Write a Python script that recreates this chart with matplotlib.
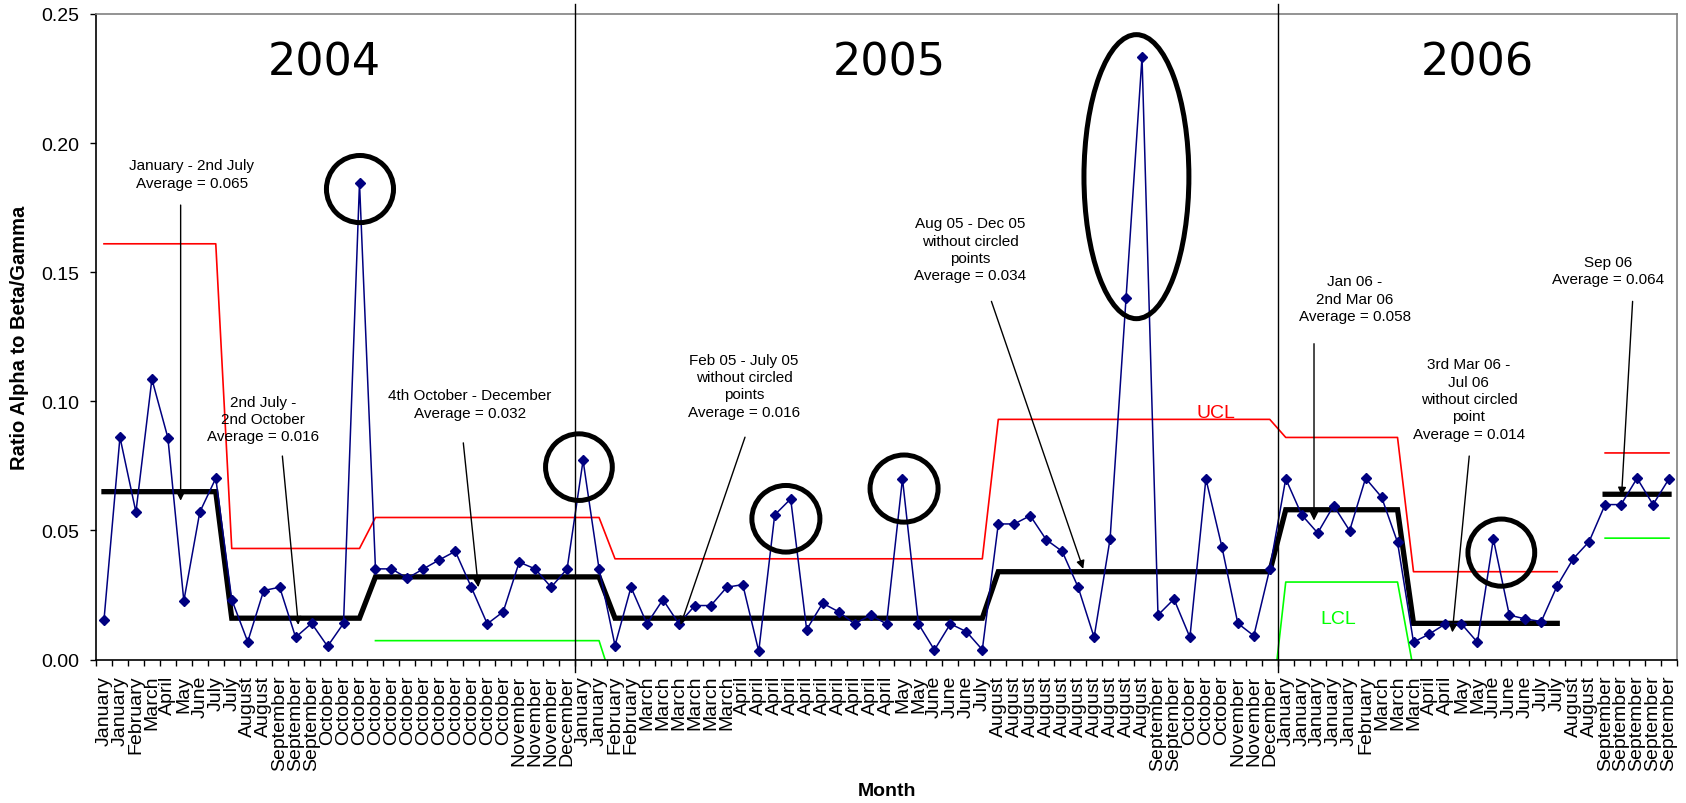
import matplotlib
matplotlib.use("Agg")
import matplotlib.pyplot as plt
from matplotlib.patches import Ellipse
from matplotlib.ticker import FixedLocator, FuncFormatter

# ---------------- data ----------------
months_2004 = ["January", "January", "February", "March", "April", "May", "June", "July", "July",
               "August", "August", "September", "September", "September",
               "October", "October", "October", "October", "October", "October",
               "October", "October", "October", "October", "October", "October",
               "November", "November", "November", "December"]
months_2005 = ["January", "January", "February", "February",
               "March", "March", "March", "March", "March", "March",
               "April", "April", "April", "April", "April", "April", "April", "April", "April", "April",
               "May", "May", "June", "June", "June", "July",
               "August", "August", "August", "August", "August", "August", "August", "August", "August", "August",
               "September", "September", "October", "October", "October",
               "November", "November", "December"]
months_2006 = ["January", "January", "January", "January", "January", "February",
               "March", "March", "March", "April", "April", "May", "May",
               "June", "June", "June", "July", "July", "August", "August",
               "September", "September", "September", "September", "September"]
months = months_2004 + months_2005 + months_2006

ratio = [0.0153, 0.0861, 0.0571, 0.1086, 0.0859, 0.0227, 0.0571, 0.0702, 0.0232, 0.0069,
         0.0267, 0.0280, 0.0086, 0.0140, 0.0051, 0.0140, 0.1846, 0.0351, 0.0351, 0.0315,
         0.0351, 0.0386, 0.0419, 0.0280, 0.0138, 0.0185, 0.0377, 0.0351, 0.0280, 0.0351,
         0.0771, 0.0351, 0.0054, 0.0280, 0.0138, 0.0232, 0.0138, 0.0209, 0.0209, 0.0280,
         0.0290, 0.0032, 0.0560, 0.0622, 0.0116, 0.0218, 0.0185, 0.0138, 0.0172, 0.0138,
         0.0700, 0.0138, 0.0037, 0.0138, 0.0108, 0.0038, 0.0525, 0.0525, 0.0557, 0.0464,
         0.0419, 0.0280, 0.0086, 0.0467, 0.1400, 0.2334, 0.0172, 0.0234, 0.0086, 0.0700,
         0.0437, 0.0140, 0.0092, 0.0351, 0.0700, 0.0560, 0.0490, 0.0596, 0.0499, 0.0702,
         0.0629, 0.0454, 0.0067, 0.0099, 0.0138, 0.0138, 0.0067, 0.0467, 0.0172, 0.0157,
         0.0147, 0.0286, 0.0390, 0.0457, 0.0600, 0.0600, 0.0702, 0.0600, 0.0700]

nan = float("nan")
average = ([0.065] * 8 + [0.016] * 9 + [0.032] * 15 + [0.016] * 24 + [0.034] * 18 +
           [0.058] * 8 + [0.014] * 10 + [nan] * 2 + [0.064] * 5)
ucl = ([0.161] * 8 + [0.043] * 9 + [0.055] * 15 + [0.039] * 24 + [0.093] * 18 +
       [0.086] * 8 + [0.034] * 10 + [nan] * 2 + [0.080] * 5)
lcl = ([nan] * 17 + [0.0073] * 15 + [-0.012] * 24 + [-0.025] * 18 +
       [0.030] * 8 + [-0.004] * 10 + [nan] * 2 + [0.047] * 5)

years = ["2004", "2005", "2006"]
annotations = [
    "January - 2nd July\nAverage = 0.065",
    "2nd July -\n2nd October\nAverage = 0.016",
    "4th October - December\nAverage = 0.032",
    "Feb 05 - July 05\nwithout circled\npoints\nAverage = 0.016",
    "Aug 05 - Dec 05\nwithout circled\npoints\nAverage = 0.034",
    "Jan 06 -\n2nd Mar 06\nAverage = 0.058",
    "3rd Mar 06 -\nJul 06\nwithout circled\npoint\nAverage = 0.014",
    "Sep 06\nAverage = 0.064",
]

# ---------------- figure ----------------
W, H, DPI = 1686, 804, 100
fig = plt.figure(figsize=(W / DPI, H / DPI), dpi=DPI)
ax = fig.add_axes([96 / W, 1 - 660.5 / H, (1677 - 96) / W, (660.5 - 15) / H])

x = list(range(len(months)))
FONT = "Liberation Sans"

ax.plot(x, ucl, color="#FF0000", lw=1.2, zorder=2)
ax.plot(x, lcl, color="#00FF00", lw=1.2, zorder=2)
ax.plot(x, average, color="black", lw=3.8, solid_joinstyle="miter", zorder=3)
ax.plot(x, ratio, color="#000080", lw=1.1, marker="D", markersize=5.4,
        markerfacecolor="#000080", markeredgecolor="#000080", zorder=4)

ax.set_xlim(-0.5, len(months) - 0.5)
ax.set_ylim(0, 0.25)

# year separators
for sep in (29.5, 73.5):
    ax.plot([sep, sep], [-0.005, 0.254], color="black", lw=1.0, clip_on=False, zorder=5)

# year titles
for yr, xp in zip(years, (13.8, 49.2, 86.0)):
    ax.text(xp, 0.2315, yr, fontsize=32, family="DejaVu Sans", ha="center", va="center")

# outlier circles
ell = [((16.03, 0.1822), 4.2, 0.026), ((29.74, 0.0745), 4.18, 0.0258),
       ((42.7, 0.0545), 4.26, 0.0258), ((50.1, 0.0662), 4.26, 0.026),
       ((64.65, 0.187), 6.57, 0.110), ((87.5, 0.0414), 4.18, 0.026)]
for c, w, h in ell:
    ax.add_patch(Ellipse(c, w, h, fill=False, edgecolor="black", lw=3.6, zorder=6, clip_on=False))

# annotation texts and arrows
text_pos = [(5.51, 0.188), (9.98, 0.0932), (22.92, 0.099), (40.08, 0.106),
            (54.25, 0.1589), (78.34, 0.1397), (85.47, 0.1009), (94.16, 0.1507)]
arrows = [((4.8, 0.176), (4.8, 0.0615)), ((11.17, 0.0788), (12.17, 0.0134)),
          ((22.5, 0.0839), (23.44, 0.028)), ((40.14, 0.0861), (36.11, 0.0134)),
          ((55.57, 0.1387), (61.32, 0.0351)), ((75.77, 0.1223), (75.77, 0.0538)),
          ((85.49, 0.0788), (84.43, 0.0105)), ((95.72, 0.1387), (95.03, 0.0635))]
for txt, pos in zip(annotations, text_pos):
    ax.text(pos[0], pos[1], txt, fontsize=11, family=FONT, ha="center", va="center",
            multialignment="center", linespacing=1.3, zorder=7)
for start, tip in arrows:
    ax.annotate("", xy=tip, xytext=start,
                arrowprops=dict(arrowstyle="-|>", color="black", lw=1.0,
                                mutation_scale=12, shrinkA=0, shrinkB=0),
                zorder=7)

ax.text(69.6, 0.0955, "UCL", color="#FF0000", fontsize=14, family=FONT, ha="center", va="center")
ax.text(77.3, 0.016, "LCL", color="#00FF00", fontsize=14, family=FONT, ha="center", va="center")

# axes styling
for side in ("left", "bottom"):
    ax.spines[side].set_color("black")
    ax.spines[side].set_linewidth(1.2)
for side in ("top", "right"):
    ax.spines[side].set_color("#808080")
    ax.spines[side].set_linewidth(1.2)

ax.set_xticks(x)
ax.set_xticklabels(months, rotation=90, fontsize=14, family=FONT, ha="center", va="top")
ax.xaxis.set_minor_locator(FixedLocator([i - 0.5 for i in range(len(months) + 1)]))
ax.tick_params(axis="x", which="major", length=0, pad=11)
ax.tick_params(axis="x", which="minor", length=4.3, width=1.0, direction="out")

ax.set_yticks([0, 0.05, 0.10, 0.15, 0.20, 0.25])
ax.yaxis.set_major_formatter(FuncFormatter(lambda v, p: f"{v:.2f}"))
ax.tick_params(axis="y", length=4, width=1.0, direction="out", pad=8, labelsize=14)
for lab in ax.get_yticklabels():
    lab.set_family(FONT)

ax.set_ylabel("Ratio Alpha to Beta/Gamma", fontsize=14.5, fontweight="bold", family=FONT)
ax.yaxis.label.set_va("center")
ax.yaxis.set_label_coords(-0.0485, 0.5)
ax.set_xlabel("Month", fontsize=14, fontweight="bold", family=FONT)
ax.xaxis.label.set_va("center")
ax.xaxis.set_label_coords(0.5, -0.203)

fig.savefig("out.png", dpi=DPI)
